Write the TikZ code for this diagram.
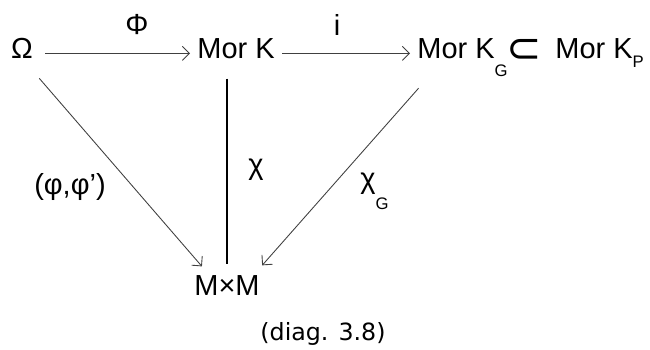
\documentclass[tikz,border=0pt]{standalone}
\usepackage{fontspec}
\setmainfont{Liberation Sans}
\newfontfamily\capfont{DejaVu Sans}
\usepackage{tikz}
\usetikzlibrary{arrows.meta}

\begin{document}
\begin{tikzpicture}[x=0.02cm,y=-0.02cm,
  every node/.style={inner sep=0pt,font=\fontsize{16.5}{19}\selectfont},
  map/.style={draw=black!75,line width=0.5pt,-{Straight Barb[length=4pt,width=8pt]}},
  idx/.style={font=\fontsize{9.5}{11}\selectfont}]
\useasboundingbox (0,0) rectangle (650,349);
% objects
\node[anchor=base] (om) at (22,58) {Ω};
\node[anchor=base west] (mork) at (197,58) {Mor K};
\node[anchor=base west] (morkg) at (417,58) {Mor K\raisebox{-10.7pt}{\fontsize{9.5}{11}\selectfont G}};
\node[font=\capfont\fontsize{24}{28}\selectfont] (incl) at (524,51) {⊂};
\node[anchor=base west] (morkp) at (555,58) {Mor K\raisebox{-5.6pt}{\fontsize{9.5}{11}\selectfont P}};
\node[anchor=base] (mxm) at (227,295) {M×M};
% maps
\draw[map,shorten <=0.24cm,shorten >=0.14cm] (om.mid east) -- (mork.mid west);
\draw[map,shorten <=0.14cm,shorten >=0.14cm] (mork.mid east) -- (morkg.mid west);
\draw[line width=1pt,shorten <=0.4cm,shorten >=0.22cm] (mxm.north |- mork.south) -- (mxm.north);
\draw[map,shorten <=0.53cm,shorten >=0.22cm] (om.south) -- (mxm.150);
\draw[map,shorten <=0.29cm,shorten >=0.25cm] (morkg.210) -- (mxm.21);
% labels
\node (lphi) at (137,25) {Φ};
\node (li) at (337,25) {i};
\node (lchi) at (256,170) {χ};
\node (lpair) at (70,187) {(φ,φ')};
\node[anchor=base west] (lchig) at (360,188) {χ\raisebox{-12pt}{\fontsize{9.5}{11}\selectfont G}};
\node[anchor=base,font=\capfont\fontsize{13.5}{16}\selectfont] (cap) at (323,340) {(diag. 3.8)};
\end{tikzpicture}
\end{document}
